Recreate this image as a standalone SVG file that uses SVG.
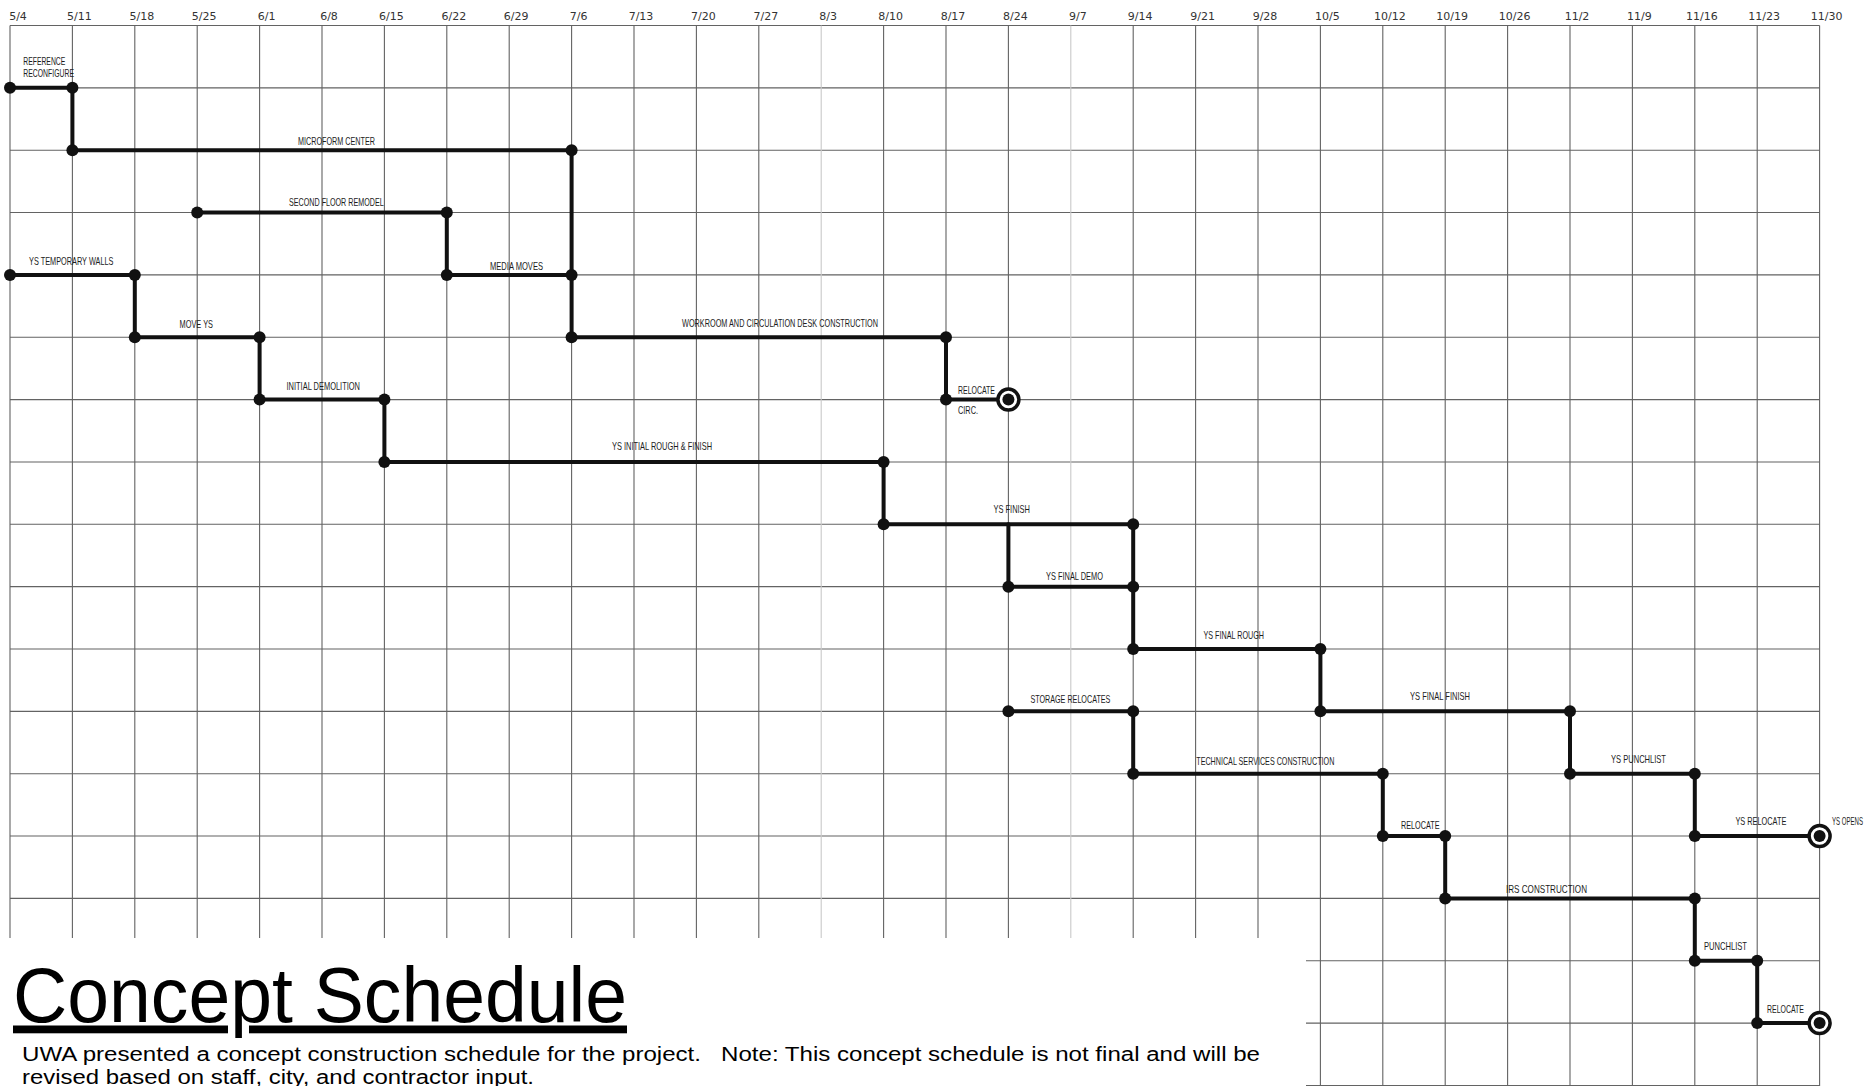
<svg xmlns="http://www.w3.org/2000/svg" width="1867" height="1086" viewBox="0 0 1867 1086">
<style>
.g{stroke:#636363;stroke-width:1.1;fill:none}
.gf{stroke:#c9c9c9;stroke-width:1.1;fill:none}
.c{stroke:#111;stroke-width:4;fill:none;stroke-linecap:round;stroke-linejoin:miter}
.d{fill:#111}
.dt{font-family:"DejaVu Sans","Liberation Sans",sans-serif;font-size:11px;fill:#333;text-anchor:middle}
.l{font-family:"Liberation Sans Narrow","Liberation Sans",sans-serif;font-size:10.3px;fill:#1c1c1c}
.ring{fill:none;stroke:#111;stroke-width:3.5}
.title{font-family:"Liberation Sans",Arial,sans-serif;font-size:78px;fill:#000;text-decoration:underline}
.body{font-family:"Liberation Sans",Arial,sans-serif;font-size:20px;fill:#000}
</style>
<rect x="0" y="0" width="1867" height="1086" fill="#fff"/>
<g id="grid">
<path class="g" d="M10,25.5H1819.6M10,87.85H1819.6M10,150.2H1819.6M10,212.55H1819.6M10,274.9H1819.6M10,337.25H1819.6M10,399.6H1819.6M10,461.95H1819.6M10,524.3H1819.6M10,586.65H1819.6M10,649H1819.6M10,711.35H1819.6M10,773.7H1819.6M10,836.05H1819.6M10,898.4H1819.6M1306,960.75H1819.6M1306,1023.1H1819.6M1306,1085.45H1819.6"/>
<path class="g" d="M10,25.5V938M72.4,25.5V938M134.8,25.5V938M197.2,25.5V938M259.6,25.5V938M322,25.5V938M384.4,25.5V938M446.8,25.5V938M509.2,25.5V938M571.6,25.5V938M634,25.5V938M696.4,25.5V938M758.8,25.5V938M883.6,25.5V938M946,25.5V938M1008.4,25.5V938M1133.2,25.5V938M1195.6,25.5V938M1258,25.5V938M1320.4,25.5V1086M1382.8,25.5V1086M1445.2,25.5V1086M1507.6,25.5V1086M1570,25.5V1086M1632.4,25.5V1086M1694.8,25.5V1086M1757.2,25.5V1086M1819.6,25.5V1086"/>
<path class="gf" d="M821.2,25.5V938M1070.8,25.5V938"/>
</g>
<g id="dates">
<text class="dt" x="18" y="19.5">5/4</text>
<text class="dt" x="79.4" y="19.5">5/11</text>
<text class="dt" x="141.8" y="19.5">5/18</text>
<text class="dt" x="204.2" y="19.5">5/25</text>
<text class="dt" x="266.6" y="19.5">6/1</text>
<text class="dt" x="329" y="19.5">6/8</text>
<text class="dt" x="391.4" y="19.5">6/15</text>
<text class="dt" x="453.8" y="19.5">6/22</text>
<text class="dt" x="516.2" y="19.5">6/29</text>
<text class="dt" x="578.6" y="19.5">7/6</text>
<text class="dt" x="641" y="19.5">7/13</text>
<text class="dt" x="703.4" y="19.5">7/20</text>
<text class="dt" x="765.8" y="19.5">7/27</text>
<text class="dt" x="828.2" y="19.5">8/3</text>
<text class="dt" x="890.6" y="19.5">8/10</text>
<text class="dt" x="953" y="19.5">8/17</text>
<text class="dt" x="1015.4" y="19.5">8/24</text>
<text class="dt" x="1077.8" y="19.5">9/7</text>
<text class="dt" x="1140.2" y="19.5">9/14</text>
<text class="dt" x="1202.6" y="19.5">9/21</text>
<text class="dt" x="1265" y="19.5">9/28</text>
<text class="dt" x="1327.4" y="19.5">10/5</text>
<text class="dt" x="1389.8" y="19.5">10/12</text>
<text class="dt" x="1452.2" y="19.5">10/19</text>
<text class="dt" x="1514.6" y="19.5">10/26</text>
<text class="dt" x="1577" y="19.5">11/2</text>
<text class="dt" x="1639.4" y="19.5">11/9</text>
<text class="dt" x="1701.8" y="19.5">11/16</text>
<text class="dt" x="1764.2" y="19.5">11/23</text>
<text class="dt" x="1826.6" y="19.5">11/30</text>
</g>
<g id="connectors">
<path class="c" d="M10,87.85H72.4V150.2"/>
<path class="c" d="M72.4,150.2H571.6V337.25"/>
<path class="c" d="M197.2,212.55H446.8V274.9"/>
<path class="c" d="M446.8,274.9H571.6"/>
<path class="c" d="M10,274.9H134.8V337.25"/>
<path class="c" d="M134.8,337.25H259.6V399.6"/>
<path class="c" d="M259.6,399.6H384.4V461.95"/>
<path class="c" d="M384.4,461.95H883.6V524.3"/>
<path class="c" d="M571.6,337.25H946V399.6"/>
<path class="c" d="M946,399.6H1008.4"/>
<path class="c" d="M883.6,524.3H1133.2V649"/>
<path class="c" d="M1008.4,524.3V586.65H1133.2"/>
<path class="c" d="M1133.2,649H1320.4V711.35"/>
<path class="c" d="M1008.4,711.35H1133.2V773.7"/>
<path class="c" d="M1320.4,711.35H1570V773.7"/>
<path class="c" d="M1133.2,773.7H1382.8V836.05"/>
<path class="c" d="M1382.8,836.05H1445.2V898.4"/>
<path class="c" d="M1570,773.7H1694.8V836.05"/>
<path class="c" d="M1694.8,836.05H1819.6"/>
<path class="c" d="M1445.2,898.4H1694.8V960.75"/>
<path class="c" d="M1694.8,960.75H1757.2V1023.1"/>
<path class="c" d="M1757.2,1023.1H1819.6"/>
</g>
<g id="task-reference-reconfigure">
<text class="l" x="23.3" y="65.4" textLength="42" lengthAdjust="spacingAndGlyphs">REFERENCE</text>
<text class="l" x="23.3" y="77" textLength="50.7" lengthAdjust="spacingAndGlyphs">RECONFIGURE</text>
<circle class="d" cx="10" cy="87.85" r="6"/><circle class="d" cx="72.4" cy="87.85" r="6"/>
</g>
<g id="task-microform-center">
<text class="l" x="298" y="144.7" textLength="77" lengthAdjust="spacingAndGlyphs">MICROFORM CENTER</text>
<circle class="d" cx="72.4" cy="150.2" r="6"/><circle class="d" cx="571.6" cy="150.2" r="6"/>
</g>
<g id="task-second-floor-remodel">
<text class="l" x="289" y="206.4" textLength="94.7" lengthAdjust="spacingAndGlyphs">SECOND FLOOR REMODEL</text>
<circle class="d" cx="197.2" cy="212.55" r="6"/><circle class="d" cx="446.8" cy="212.55" r="6"/>
</g>
<g id="task-media-moves">
<text class="l" x="490" y="269.7" textLength="53" lengthAdjust="spacingAndGlyphs">MEDIA MOVES</text>
<circle class="d" cx="446.8" cy="274.9" r="6"/><circle class="d" cx="571.6" cy="274.9" r="6"/>
</g>
<g id="task-ys-temporary-walls">
<text class="l" x="29" y="265.4" textLength="84.5" lengthAdjust="spacingAndGlyphs">YS TEMPORARY WALLS</text>
<circle class="d" cx="10" cy="274.9" r="6"/><circle class="d" cx="134.8" cy="274.9" r="6"/>
</g>
<g id="task-move-ys">
<text class="l" x="179.6" y="327.7" textLength="33.4" lengthAdjust="spacingAndGlyphs">MOVE YS</text>
<circle class="d" cx="134.8" cy="337.25" r="6"/><circle class="d" cx="259.6" cy="337.25" r="6"/>
</g>
<g id="task-initial-demolition">
<text class="l" x="286.5" y="390.4" textLength="73.5" lengthAdjust="spacingAndGlyphs">INITIAL DEMOLITION</text>
<circle class="d" cx="259.6" cy="399.6" r="6"/><circle class="d" cx="384.4" cy="399.6" r="6"/>
</g>
<g id="task-ys-initial-rough-finish">
<text class="l" x="612" y="450.4" textLength="100" lengthAdjust="spacingAndGlyphs">YS INITIAL ROUGH &amp; FINISH</text>
<circle class="d" cx="384.4" cy="461.95" r="6"/><circle class="d" cx="883.6" cy="461.95" r="6"/>
</g>
<g id="task-workroom-circulation">
<text class="l" x="682" y="326.7" textLength="196" lengthAdjust="spacingAndGlyphs">WORKROOM AND CIRCULATION DESK CONSTRUCTION</text>
<circle class="d" cx="571.6" cy="337.25" r="6"/><circle class="d" cx="946" cy="337.25" r="6"/>
</g>
<g id="milestone-relocate-circ">
<text class="l" x="958" y="394.2" textLength="37" lengthAdjust="spacingAndGlyphs">RELOCATE</text>
<text class="l" x="958" y="413.7" textLength="20" lengthAdjust="spacingAndGlyphs">CIRC.</text>
<circle class="d" cx="946" cy="399.6" r="6"/>
<circle cx="1008.4" cy="399.6" r="10.5" fill="#fff"/><circle class="ring" cx="1008.4" cy="399.6" r="10.5"/><circle class="d" cx="1008.4" cy="399.6" r="6"/>
</g>
<g id="task-ys-finish">
<text class="l" x="993.5" y="512.7" textLength="36.5" lengthAdjust="spacingAndGlyphs">YS FINISH</text>
<circle class="d" cx="883.6" cy="524.3" r="6"/><circle class="d" cx="1133.2" cy="524.3" r="6"/>
</g>
<g id="task-ys-final-demo">
<text class="l" x="1046" y="579.7" textLength="57" lengthAdjust="spacingAndGlyphs">YS FINAL DEMO</text>
<circle class="d" cx="1008.4" cy="586.65" r="6"/><circle class="d" cx="1133.2" cy="586.65" r="6"/>
</g>
<g id="task-ys-final-rough">
<text class="l" x="1203.5" y="638.7" textLength="60.5" lengthAdjust="spacingAndGlyphs">YS FINAL ROUGH</text>
<circle class="d" cx="1133.2" cy="649" r="6"/><circle class="d" cx="1320.4" cy="649" r="6"/>
</g>
<g id="task-storage-relocates">
<text class="l" x="1030.4" y="703.2" textLength="80" lengthAdjust="spacingAndGlyphs">STORAGE RELOCATES</text>
<circle class="d" cx="1008.4" cy="711.35" r="6"/><circle class="d" cx="1133.2" cy="711.35" r="6"/>
</g>
<g id="task-ys-final-finish">
<text class="l" x="1410" y="700.4" textLength="60" lengthAdjust="spacingAndGlyphs">YS FINAL FINISH</text>
<circle class="d" cx="1320.4" cy="711.35" r="6"/><circle class="d" cx="1570" cy="711.35" r="6"/>
</g>
<g id="task-technical-services">
<text class="l" x="1196.3" y="764.7" textLength="138" lengthAdjust="spacingAndGlyphs">TECHNICAL SERVICES CONSTRUCTION</text>
<circle class="d" cx="1133.2" cy="773.7" r="6"/><circle class="d" cx="1382.8" cy="773.7" r="6"/>
</g>
<g id="task-relocate-ts">
<text class="l" x="1401" y="828.7" textLength="38.6" lengthAdjust="spacingAndGlyphs">RELOCATE</text>
<circle class="d" cx="1382.8" cy="836.05" r="6"/><circle class="d" cx="1445.2" cy="836.05" r="6"/>
</g>
<g id="task-ys-punchlist">
<text class="l" x="1611" y="762.7" textLength="55" lengthAdjust="spacingAndGlyphs">YS PUNCHLIST</text>
<circle class="d" cx="1570" cy="773.7" r="6"/><circle class="d" cx="1694.8" cy="773.7" r="6"/>
</g>
<g id="milestone-ys-relocate">
<text class="l" x="1735.4" y="825.4" textLength="51" lengthAdjust="spacingAndGlyphs">YS RELOCATE</text>
<text class="l" x="1832" y="825.4" textLength="31" lengthAdjust="spacingAndGlyphs">YS OPENS</text>
<circle class="d" cx="1694.8" cy="836.05" r="6"/>
<circle cx="1819.6" cy="836.05" r="10.5" fill="#fff"/><circle class="ring" cx="1819.6" cy="836.05" r="10.5"/><circle class="d" cx="1819.6" cy="836.05" r="6"/>
</g>
<g id="task-irs-construction">
<text class="l" x="1506" y="893" textLength="81" lengthAdjust="spacingAndGlyphs">IRS CONSTRUCTION</text>
<circle class="d" cx="1445.2" cy="898.4" r="6"/><circle class="d" cx="1694.8" cy="898.4" r="6"/>
</g>
<g id="task-punchlist">
<text class="l" x="1704" y="949.7" textLength="43" lengthAdjust="spacingAndGlyphs">PUNCHLIST</text>
<circle class="d" cx="1694.8" cy="960.75" r="6"/><circle class="d" cx="1757.2" cy="960.75" r="6"/>
</g>
<g id="milestone-relocate-final">
<text class="l" x="1767" y="1013" textLength="37" lengthAdjust="spacingAndGlyphs">RELOCATE</text>
<circle class="d" cx="1757.2" cy="1023.1" r="6"/>
<circle cx="1819.6" cy="1023.1" r="10.5" fill="#fff"/><circle class="ring" cx="1819.6" cy="1023.1" r="10.5"/><circle class="d" cx="1819.6" cy="1023.1" r="6"/>
</g>
<g id="caption">
<text class="title" x="13" y="1021.5" textLength="614" lengthAdjust="spacingAndGlyphs">Concept Schedule</text>
<text class="body" x="22" y="1061" textLength="1238" lengthAdjust="spacingAndGlyphs" xml:space="preserve">UWA presented a concept construction schedule for the project.   Note: This concept schedule is not final and will be</text>
<text class="body" x="22" y="1084" textLength="512" lengthAdjust="spacingAndGlyphs">revised based on staff, city, and contractor input.</text>
</g>
</svg>
